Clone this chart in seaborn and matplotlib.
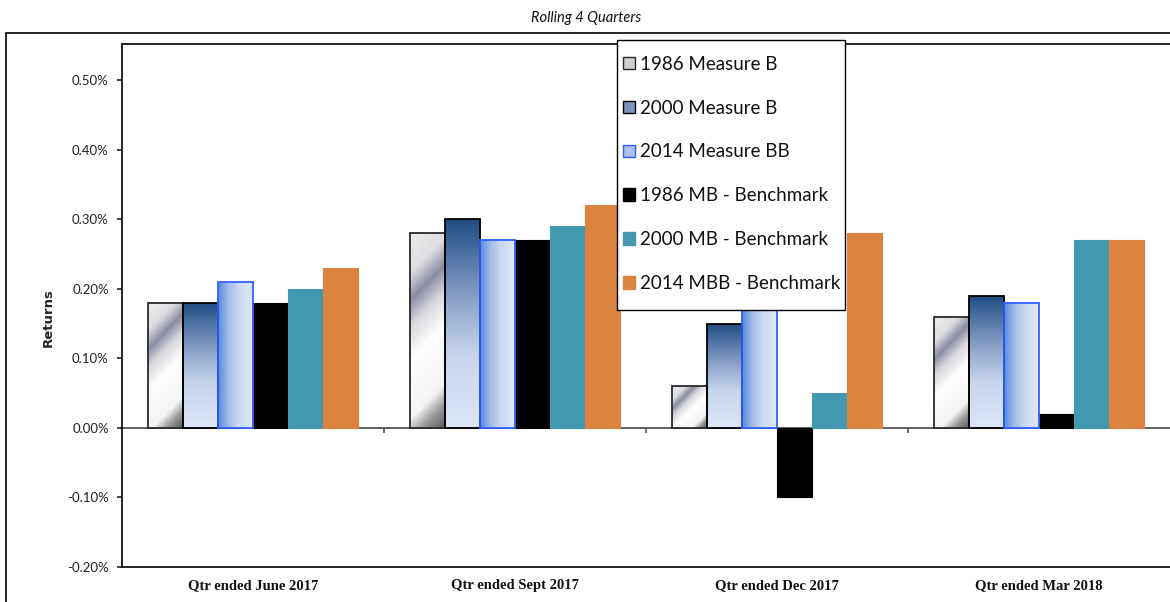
import numpy as np
import pandas as pd
import seaborn as sns
import matplotlib.pyplot as plt
from matplotlib.colors import LinearSegmentedColormap
from matplotlib.patches import Patch, Rectangle
from matplotlib.ticker import FuncFormatter

# values in percent
quarters = ["Qtr ended June 2017", "Qtr ended Sept 2017", "Qtr ended Dec 2017", "Qtr ended Mar 2018"]
series_names = ["1986 Measure B", "2000 Measure B", "2014 Measure BB",
                "1986 MB - Benchmark", "2000 MB - Benchmark", "2014 MBB - Benchmark"]
m1986 = [0.18, 0.28, 0.06, 0.16]
m2000 = [0.18, 0.30, 0.15, 0.19]
m2014 = [0.21, 0.27, 0.20, 0.18]  # Dec 2017 value is hidden behind the legend, estimated
b1986 = [0.18, 0.27, -0.10, 0.02]
b2000 = [0.20, 0.29, 0.05, 0.27]
b2014 = [0.23, 0.32, 0.28, 0.27]
yticks = [-0.2, -0.1, 0.0, 0.1, 0.2, 0.3, 0.4, 0.5]

rows = []
for name, vals in zip(series_names, [m1986, m2000, m2014, b1986, b2000, b2014]):
    for q, v in zip(quarters, vals):
        rows.append({"quarter": q, "series": name, "ret": v})
df = pd.DataFrame(rows)

palette = {
    "1986 Measure B": "#d0d0d4",
    "2000 Measure B": "#7d95bd",
    "2014 Measure BB": "#a8c0ea",
    "1986 MB - Benchmark": "#000000",
    "2000 MB - Benchmark": "#4399b0",
    "2014 MBB - Benchmark": "#dc833f",
}
edges = {
    "1986 Measure B": "#2a2a2a",
    "2000 Measure B": "#000000",
    "2014 Measure BB": "#2f5fff",
    "1986 MB - Benchmark": "#000000",
    "2000 MB - Benchmark": "#4399b0",
    "2014 MBB - Benchmark": "#dc833f",
}

sns.set_theme(style="white")
narrow = ["Liberation Sans Narrow", "DejaVu Sans Condensed", "Lato", "DejaVu Sans"]
plt.rcParams["font.family"] = narrow

fig = plt.figure(figsize=(11.7, 6.02), dpi=100)
ax = fig.add_axes([122 / 1170, 1 - 567 / 602, 1 - 122 / 1170, (567 - 44) / 602])

sns.barplot(data=df, x="quarter", y="ret", hue="series", order=quarters,
            hue_order=series_names, palette=palette, width=0.8, saturation=1,
            legend=False, ax=ax)
ax.set_xlim(-0.5, 3.5)
ax.set_ylim(-0.2, 0.552)

# gradient fills like the Excel original
grad_maps = {
    "1986 Measure B": ("diag", LinearSegmentedColormap.from_list("g1", [
        (0.0, "#5e5e5e"), (0.1, "#9a9a9a"), (0.19, "#f4f4f4"), (0.45, "#fdfdfd"),
        (0.6, "#d6d6dc"), (0.71, "#8a8ca2"), (0.83, "#dedee2"), (1.0, "#ececec")])),
    "2000 Measure B": ("vert", LinearSegmentedColormap.from_list("g2", [
        (0.0, "#dde6f5"), (0.35, "#c6d4ec"), (0.55, "#9aafd2"), (0.8, "#587aaa"), (1.0, "#1f4c82")])),
    "2014 Measure BB": ("horiz", LinearSegmentedColormap.from_list("g3", [
        (0.0, "#5a8ddd"), (0.3, "#a3bce8"), (0.6, "#ccd9f1"), (1.0, "#dee7f6")])),
}

for name, cont in zip(series_names, ax.containers):
    for bar in cont:
        bar.set_edgecolor(edges[name])
        bar.set_linewidth(1.3 if name in grad_maps else 0.8)
        if name not in grad_maps:
            continue
        kind, cmap = grad_maps[name]
        x0, y0, w, h = bar.get_x(), bar.get_y(), bar.get_width(), bar.get_height()
        (px0, py0), (px1, py1) = ax.transData.transform([(x0, y0), (x0 + w, y0 + h)])
        wpx, hpx = abs(px1 - px0), abs(py1 - py0)
        nx, ny = max(int(wpx), 2), max(int(hpx), 2)
        xx, yy = np.meshgrid(np.linspace(0, 1, nx), np.linspace(1, 0, ny))
        if kind == "vert":
            t = yy
        elif kind == "horiz":
            t = xx
        else:
            t = (yy * hpx - xx * wpx + wpx) / (hpx + wpx)
        im = ax.imshow(cmap(t), extent=[x0, x0 + w, min(y0, y0 + h), max(y0, y0 + h)],
                       aspect="auto", origin="upper", interpolation="bilinear",
                       zorder=bar.get_zorder())
        im.set_clip_path(bar)
        bar.set_facecolor("none")
        bar.set_zorder(bar.get_zorder() + 0.1)

ax.set_xlim(-0.5, 3.5)
ax.set_ylim(-0.2, 0.552)

# zero line with category separators
ax.axhline(0, color="#555555", lw=1.3, zorder=0.5)
ax.vlines([0.5, 1.5, 2.5], -0.008, 0, color="#555555", lw=1.2)

ax.set_yticks(yticks)
ax.yaxis.set_major_formatter(FuncFormatter(lambda v, p: f"{v:.2f}%"))
ax.tick_params(axis="y", which="major", left=True, length=3.5, width=1.2,
               direction="out", color="#222222", pad=6, labelsize=9.5, labelcolor="#222222")
ax.tick_params(axis="x", length=0, pad=9)
for lab in ax.get_xticklabels():
    lab.set_fontfamily("Liberation Serif")
    lab.set_fontweight("bold")
    lab.set_fontsize(10.5)
    lab.set_color("#111111")

ax.set_xlabel("")
ax.set_ylabel("Returns", fontfamily="DejaVu Sans", fontweight="bold", fontsize=9.5)
ax.yaxis.set_label_coords((55 - 122) / 1048, 0.476)

for side in ["left", "top", "bottom"]:
    ax.spines[side].set_color("black")
    ax.spines[side].set_linewidth(1.2)
ax.spines["right"].set_visible(False)

# legend box drawn separately so its padding matches the original
ax.add_patch(Rectangle((0.472, 0.491), 0.218, 0.517, transform=ax.transAxes,
                       facecolor="white", edgecolor="black", lw=1.0,
                       clip_on=False, zorder=9))
handles = [Patch(facecolor=palette[n], edgecolor=edges[n], linewidth=1.0) for n in series_names]
leg = ax.legend(handles, series_names, loc="upper left",
                bbox_to_anchor=(0.472 + 6 / 1048, 1.008 - 16 / 523),
                fontsize=13.5, frameon=False, handlelength=0.65, handleheight=0.65,
                handletextpad=0.3, labelspacing=1.43, borderpad=0, borderaxespad=0)
leg.set_zorder(10)
for txt in leg.get_texts():
    txt.set_color("#111111")

fig.add_artist(Rectangle((6 / 1170, -0.05), 1.2, 1 - 33 / 602 + 0.05,
                         transform=fig.transFigure, fill=False, edgecolor="black", lw=1.2))
fig.text(586 / 1170, 1 - 18 / 602, "Rolling 4 Quarters", ha="center", va="center",
         style="italic", fontsize=10.5, color="#111111")

fig.savefig("out.png", dpi=100)
